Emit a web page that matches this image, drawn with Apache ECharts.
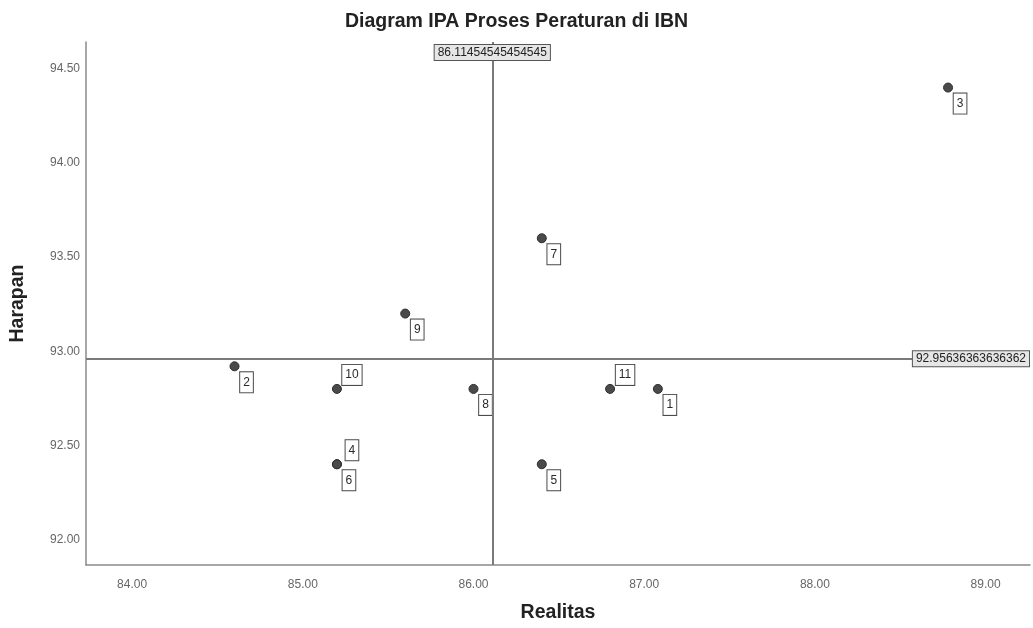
<!DOCTYPE html>
<html>
<head>
<meta charset="utf-8">
<script src="https://cdn.jsdelivr.net/npm/echarts@6/dist/echarts.min.js"></script>
<style>
  html, body { margin: 0; padding: 0; background: #fff; }
  #chart { width: 1033px; height: 628px; }
</style>
</head>
<body>
<div id="chart"></div>
<script>
// nomor butir (label titik)
var pointIds = ['1', '2', '3', '4', '5', '6', '7', '8', '9', '10', '11'];
// Realitas (sumbu X)
var realitas = [87.08, 84.6, 88.78, 85.2, 86.4, 85.2, 86.4, 86.0, 85.6, 85.2, 86.8];
// Harapan (sumbu Y)
var harapan = [92.8, 92.92, 94.4, 92.4, 92.4, 92.4, 93.6, 92.8, 93.2, 92.8, 92.8];
// garis rata-rata
var meanRealitas = 86.11454545454545;
var meanHarapan = 92.95636363636362;
// label yang diletakkan di atas titik
var labelsAbove = ['4', '10', '11'];

var FONT = '"Liberation Sans", Arial, sans-serif';

function buildPoints() {
    var result = [];
    for (var i = 0; i < pointIds.length; i++) {
        var above = labelsAbove.indexOf(pointIds[i]) >= 0;
        result.push({
            name: pointIds[i],
            value: [realitas[i], harapan[i]],
            label: { offset: above ? [15, -14] : [12, 16] }
        });
    }
    return result;
}

function fmtX(v) {
    return Math.abs(v - Math.round(v)) < 1e-6 ? v.toFixed(2) : '';
}
function fmtY(v) {
    return Math.abs(v * 2 - Math.round(v * 2)) < 1e-6 ? v.toFixed(2) : '';
}

var chart = echarts.init(document.getElementById('chart'));

var option = {
    animation: false,
    backgroundColor: '#ffffff',
    title: {
        text: 'Diagram IPA Proses Peraturan di IBN',
        left: 'center',
        top: 7,
        textStyle: { fontFamily: FONT, fontSize: 19.5, fontWeight: 'bold', color: '#222' }
    },
    grid: { left: 86, right: 3, top: 42, bottom: 63 },
    xAxis: {
        type: 'value',
        min: 83.73,
        max: 89.26,
        splitNumber: 5,
        name: 'Realitas',
        nameLocation: 'middle',
        nameGap: 38,
        nameTextStyle: { fontFamily: FONT, fontSize: 19.5, fontWeight: 'bold', color: '#222' },
        axisLine: { show: true, lineStyle: { color: '#8a8a8a', width: 1.5 } },
        axisTick: { show: false },
        splitLine: { show: false },
        axisLabel: { formatter: fmtX, fontFamily: FONT, fontSize: 12, color: '#666', margin: 14 }
    },
    yAxis: {
        type: 'value',
        min: 91.865,
        max: 94.642,
        splitNumber: 5,
        name: 'Harapan',
        nameLocation: 'middle',
        nameGap: 58,
        nameTextStyle: { fontFamily: FONT, fontSize: 19.5, fontWeight: 'bold', color: '#222' },
        axisLine: { show: true, lineStyle: { color: '#8a8a8a', width: 1.5 } },
        axisTick: { show: false },
        splitLine: { show: false },
        axisLabel: { formatter: fmtY, fontFamily: FONT, fontSize: 12, color: '#666', margin: 6 }
    },
    series: [{
        type: 'scatter',
        symbol: 'circle',
        symbolSize: 9,
        itemStyle: { color: '#4a4a4a', borderColor: '#2e2e2e', borderWidth: 1, opacity: 1 },
        label: {
            show: true,
            position: 'inside',
            formatter: '{b}',
            fontFamily: FONT,
            fontSize: 12,
            color: '#2a2a2a',
            backgroundColor: '#fff',
            borderColor: '#4a4a4a',
            borderWidth: 1,
            padding: [4, 3, 4, 3]
        },
        data: buildPoints(),
        markLine: {
            silent: true,
            symbol: 'none',
            animation: false,
            lineStyle: { color: '#7a7a7a', width: 2, type: 'solid' },
            label: {
                fontFamily: FONT,
                fontSize: 12,
                color: '#222',
                backgroundColor: '#e6e6e6',
                borderColor: '#555',
                borderWidth: 1,
                padding: [2, 3, 1, 3]
            },
            data: [
                {
                    xAxis: meanRealitas,
                    label: { position: 'end', distance: -18, formatter: function () { return String(meanRealitas); } }
                },
                {
                    yAxis: meanHarapan,
                    label: { position: 'insideEnd', distance: 1, formatter: function () { return String(meanHarapan); } }
                }
            ]
        }
    }]
};

chart.setOption(option);
</script>
</body>
</html>
